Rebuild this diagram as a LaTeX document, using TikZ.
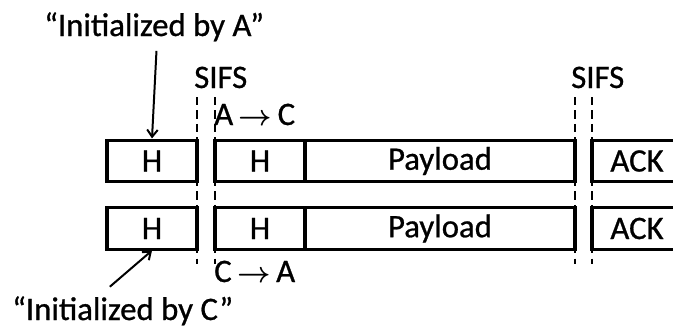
\documentclass[tikz,border=0pt]{standalone}
\usepackage{fontspec}
\setmainfont{Carlito}[FakeBold=0.8]
\usetikzlibrary{positioning,arrows.meta}
\tikzset{
    frame-box/.style = {draw, line width=2.6pt, rectangle, inner sep=0pt, outer sep=0pt, minimum height=1.25cm},
    sifs-line/.style = {line width=1.9pt, dash pattern=on 7pt off 4.5pt},
    pointer/.style = {line width=1.7pt, -{Straight Barb[length=6pt,width=9pt,line width=1.7pt]}},
    label-text/.style = {inner sep=0pt, font=\fontsize{28}{32}\selectfont},
}

\begin{document}
\begin{tikzpicture}[x=0.03cm, y=-0.03cm, label-text]
\useasboundingbox (0,0) rectangle (673,334);
\clip (0,0) rectangle (673,334);

% SIFS gaps
\coordinate (gap-top) at (0,97);
\coordinate (gap-bot) at (0,264);
\foreach \gx in {197,215,575,592} {
    \draw[sifs-line] (\gx,0 |- gap-top) -- (\gx,0 |- gap-bot);
}

% upper frame sequence
\node [frame-box, minimum width=2.7cm] (h-a) at (152,161) {H};
\node [frame-box, minimum width=2.7cm] (h-ac) at (260,161) {H};
\node [frame-box, minimum width=8.1cm, right=0pt of h-ac] (pay-ac) {Payload};
\node [frame-box, minimum width=2.7cm] (ack-a) at (637,161) {ACK};

% lower frame sequence
\node [frame-box, minimum width=2.7cm] (h-c) at (152,228.5) {H};
\node [frame-box, minimum width=2.7cm] (h-ca) at (260,228.5) {H};
\node [frame-box, minimum width=8.1cm, right=0pt of h-ca] (pay-ca) {Payload};
\node [frame-box, minimum width=2.7cm] (ack-c) at (637,228.5) {ACK};

% labels
\node [anchor=base west] (sifs-1) at (194,88) {SIFS};
\node [anchor=base west] (sifs-2) at (571,88) {SIFS};
\node [anchor=base west] (dir-ac) at (214,125) {A\,{\boldmath$\rightarrow$}\,C};
\node [anchor=base west] (dir-ca) at (214,282) {C\,{\boldmath$\rightarrow$}\,A};
\node [anchor=base west] (init-a) at (44,36) {“Initialized by A”};
\node [anchor=base west] (init-c) at (12,320) {“Initialized by C”};

\draw[pointer] ([xshift=2pt,yshift=-8pt]init-a.south) -- ([yshift=1.5pt]h-a.north);
\draw[pointer] ([xshift=-11pt,yshift=8pt]init-c.north) -- ([yshift=-1pt]h-c.south);
\end{tikzpicture}
\end{document}
